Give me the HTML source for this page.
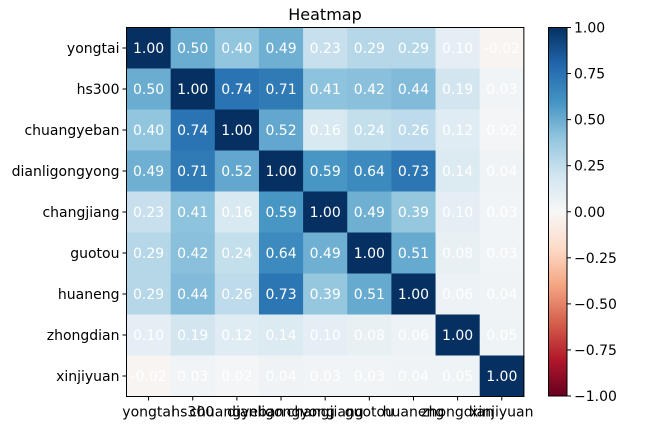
<!DOCTYPE html><html><head><style>body{margin:0;background:#fff}svg{display:block}text{font-family:"DejaVu Sans","Liberation Sans",sans-serif}</style></head><body>
<svg id="s" width="657" height="430" xmlns="http://www.w3.org/2000/svg"></svg>
<script>
const L=["yongtai","hs300","chuangyeban","dianligongyong","changjiang","guotou","huaneng","zhongdian","xinjiyuan"];
const M=[[1,.5,.4,.49,.23,.29,.29,.10,-.02],[.5,1,.74,.71,.41,.42,.44,.19,.03],[.4,.74,1,.52,.16,.24,.26,.12,.02],[.49,.71,.52,1,.59,.64,.73,.14,.04],[.23,.41,.16,.59,1,.49,.39,.10,.03],[.29,.42,.24,.64,.49,1,.51,.08,.03],[.29,.44,.26,.73,.39,.51,1,.06,.04],[.10,.19,.12,.14,.10,.08,.06,1,.05],[-.02,.03,.02,.04,.03,.03,.04,.05,1]];
const A=["#67001f","#b2182b","#d6604d","#f4a582","#fddbc7","#f7f7f7","#d1e5f0","#92c5de","#4393c3","#2166ac","#053061"].map(h=>[1,3,5].map(i=>parseInt(h.substr(i,2),16)));
function c(v){let t=(v+1)/2*10;let i=Math.min(9,Math.floor(t)),f=t-i;return "rgb("+A[i].map((x,k)=>Math.round(x+(A[i+1][k]-x)*f)).join(",")+")";}
let x0=126.5,y0=27.5,w=44.15,h=41,s="";
s+='<text x="325" y="20" font-size="16" text-anchor="middle">Heatmap</text>';
for(let r=0;r<9;r++)for(let k=0;k<9;k++){let v=M[r][k];s+=`<rect x="${x0+k*w}" y="${y0+r*h}" width="${w+.5}" height="${h+.5}" fill="${c(v)}"/>`;
s+=`<text x="${x0+k*w+w/2}" y="${y0+r*h+h/2+5}" font-size="14" fill="#fff" text-anchor="middle">${v.toFixed(2)}</text>`;}
s+=`<rect x="${x0}" y="${y0}" width="${9*w}" height="${9*h}" fill="none" stroke="#000" stroke-width="1"/>`;
for(let i=0;i<9;i++){let yy=y0+i*h+h/2,xx=x0+i*w+w/2;
s+=`<line x1="${x0-4}" y1="${yy}" x2="${x0}" y2="${yy}" stroke="#000"/><text x="${x0-7}" y="${yy+5}" font-size="14" text-anchor="end">${L[i]}</text>`;
s+=`<line x1="${xx}" y1="${y0+9*h}" x2="${xx}" y2="${y0+9*h+4}" stroke="#000"/><text x="${xx}" y="${y0+9*h+20}" font-size="14" text-anchor="middle">${L[i]}</text>`;}
let cx=548.5,cw=18.5,ct=27.5,cb=396;
s+='<defs><linearGradient id="g" x1="0" y1="1" x2="0" y2="0">'+A.map((a,i)=>`<stop offset="${i/10}" stop-color="rgb(${a})"/>`).join("")+'</linearGradient></defs>';
s+=`<rect x="${cx}" y="${ct}" width="${cw}" height="${cb-ct}" fill="url(#g)" stroke="#000"/>`;
for(let i=0;i<9;i++){let v=1-i*.25,yy=ct+i*(cb-ct)/8;
s+=`<line x1="${cx+cw}" y1="${yy}" x2="${cx+cw+4}" y2="${yy}" stroke="#000"/><text x="${cx+cw+7}" y="${yy+5}" font-size="14">${(v<0?"\u2212":"")+Math.abs(v).toFixed(2)}</text>`;}
document.getElementById("s").innerHTML=s;
</script></body></html>
